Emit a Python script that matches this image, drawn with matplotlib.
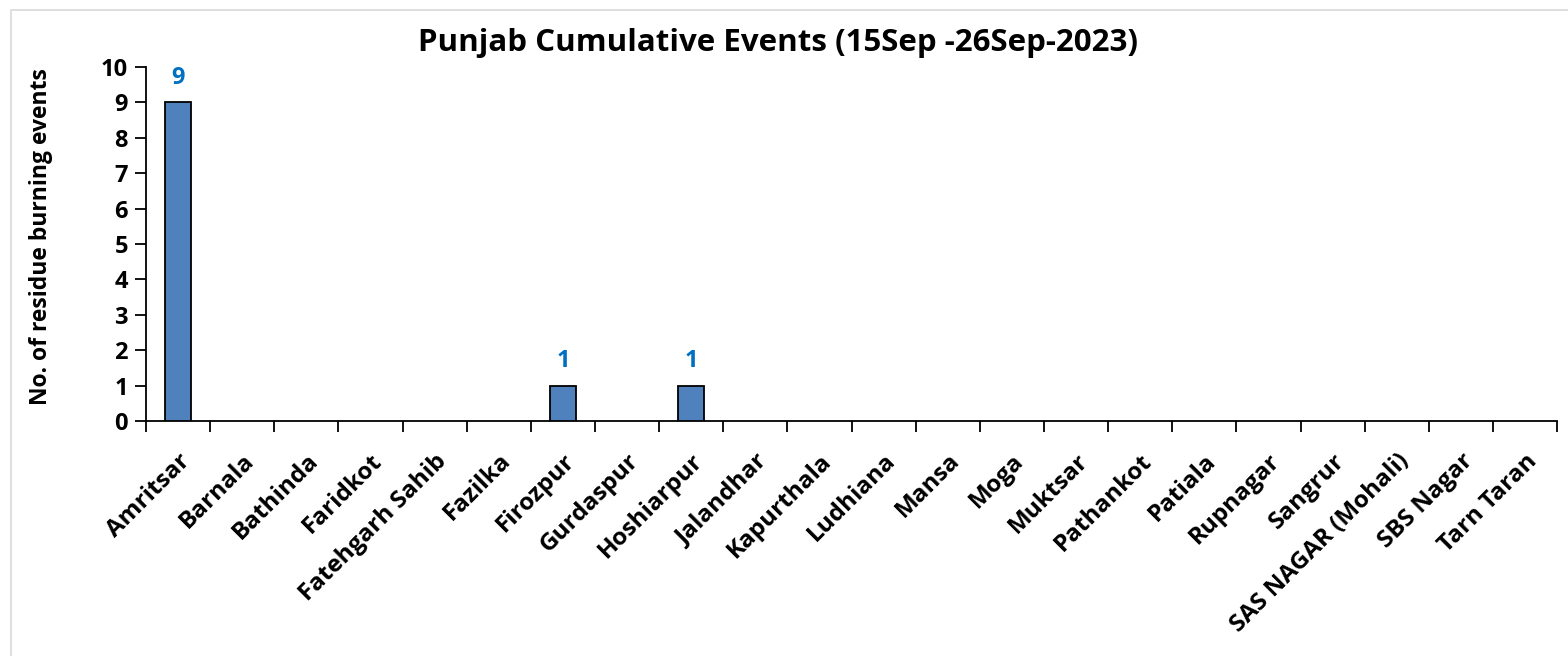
import matplotlib.pyplot as plt
from matplotlib.patches import Rectangle
import numpy as np

# Punjab cumulative residue burning events per district
districts = ['Amritsar', 'Barnala', 'Bathinda', 'Faridkot', 'Fatehgarh Sahib', 'Fazilka',
             'Firozpur', 'Gurdaspur', 'Hoshiarpur', 'Jalandhar', 'Kapurthala', 'Ludhiana',
             'Mansa', 'Moga', 'Muktsar', 'Pathankot', 'Patiala', 'Rupnagar', 'Sangrur',
             'SAS NAGAR (Mohali)', 'SBS Nagar', 'Tarn Taran']
events = [9, 0, 0, 0, 0, 0, 1, 0, 1, 0, 0, 0, 0, 0, 0, 0, 0, 0, 0, 0, 0, 0]

plt.rcParams['font.family'] = ['Open Sans', 'DejaVu Sans']
plt.rcParams['font.weight'] = 'bold'

fig = plt.figure(figsize=(15.68, 6.56), dpi=100)
ax = fig.add_axes([0.0931, 0.358, 0.9, 0.54])

x = np.arange(len(districts))
vals = np.array(events)
nz = vals > 0
ax.bar(x[nz], vals[nz], width=0.4, color='#4F81BD', edgecolor='black', linewidth=1.3, zorder=3)

for xi, v in zip(x, events):
    if v > 0:
        ax.text(xi, v + 0.35, str(v), ha='center', va='bottom', color='#0070C0',
                fontsize=17, fontweight='bold')

ax.set_xlim(-0.5, len(districts) - 0.5)
ax.set_ylim(0, 10)
ax.set_yticks(range(0, 11))
ax.tick_params(axis='y', labelsize=17, length=8, width=1.3, direction='out', pad=5)

ax.set_xticks(x)
ax.set_xticklabels(districts, rotation=45, ha='right', rotation_mode='anchor', fontsize=17.5)
ax.tick_params(axis='x', length=0, pad=20)
ax.set_xticks(np.arange(-0.5, len(districts)), minor=True)
ax.tick_params(axis='x', which='minor', length=8, width=1.3, direction='out')

for s in ['top', 'right']:
    ax.spines[s].set_visible(False)
for s in ['left', 'bottom']:
    ax.spines[s].set_linewidth(1.3)

ax.set_ylabel('No. of residue burning events', fontsize=16.5, fontweight='bold')
ax.yaxis.set_label_coords(-0.066, 0.52)
fig.text(0.496, 0.935, 'Punjab Cumulative Events (15Sep -26Sep-2023)', ha='center', va='center',
         fontsize=22.5, fontweight='bold')

fig.patches.append(Rectangle((0.007, -0.1), 1.1, 0.1 + 1 - 10 / 656, transform=fig.transFigure,
                             fill=False, edgecolor='#D9D9D9', linewidth=1.2))

fig.savefig('out.png', dpi=100)
